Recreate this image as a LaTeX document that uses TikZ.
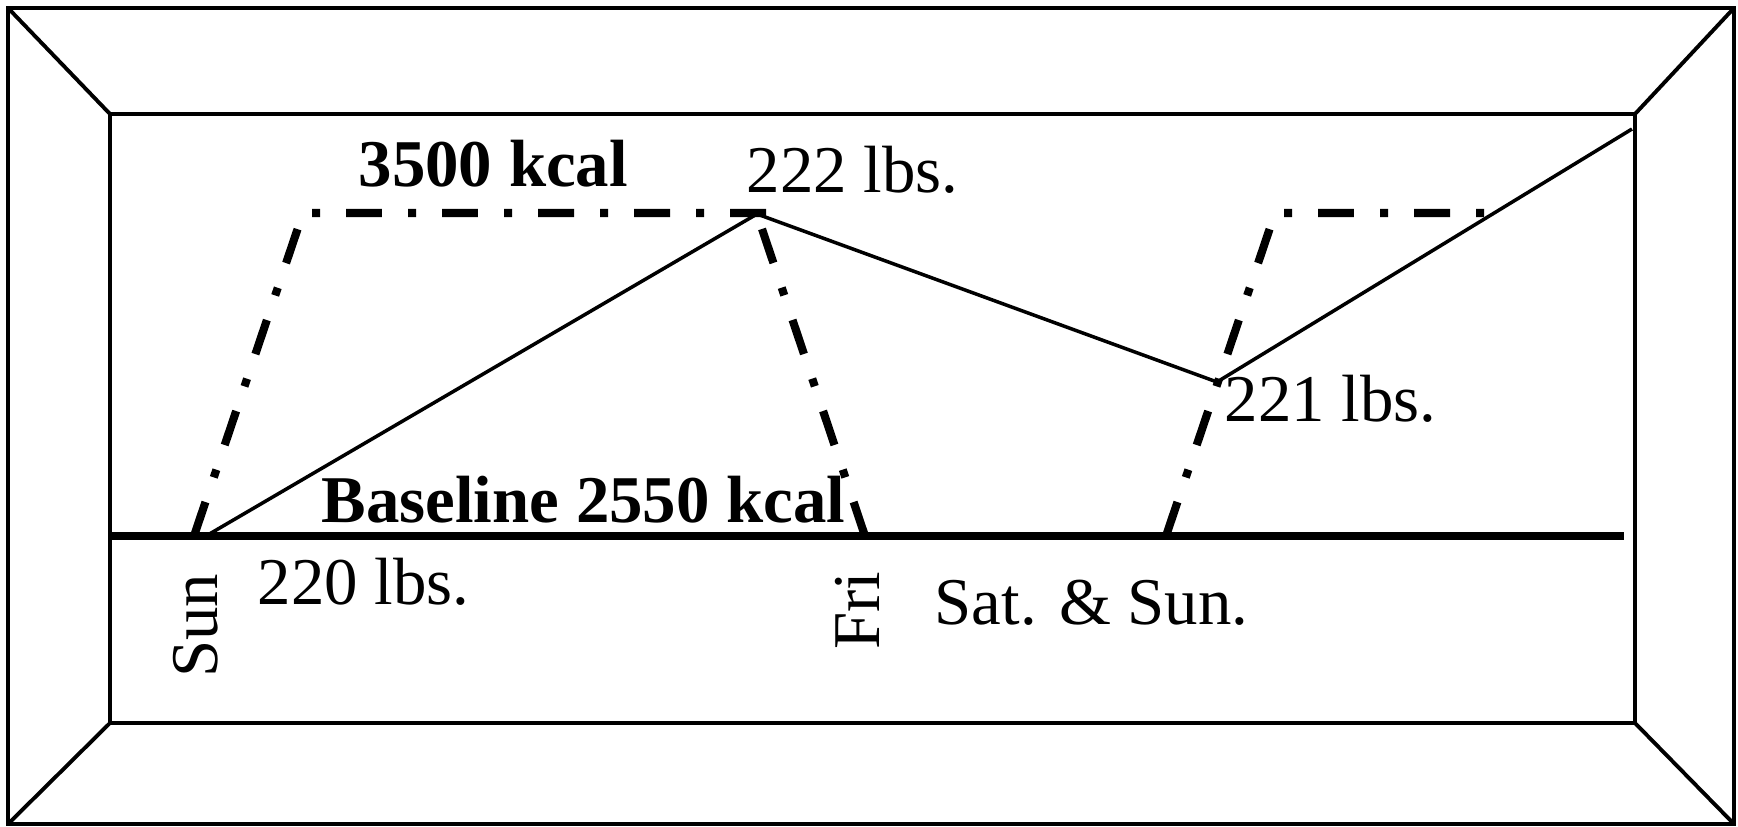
\documentclass[tikz,border=0pt]{standalone}
\usepackage{fontspec}
\setmainfont{Liberation Serif}
\usetikzlibrary{positioning}

\tikzset{
  frame/.style={line width=1.1pt},
  weight/.style={line width=1pt, line join=miter},
  kcal/.style={line width=2.3pt, dash pattern=on 10.2pt off 7.4pt on 2.3pt off 7.4pt},
  base/.style={line width=2.3pt},
  lbl/.style={inner sep=0pt, anchor=base west, font=\fontsize{19}{22}\selectfont},
  blbl/.style={lbl, font=\fontsize{19}{22}\selectfont\bfseries},
  day/.style={lbl, anchor=base east, rotate=90}
}

\begin{document}
\begin{tikzpicture}[x=0.01cm, y=-0.01cm]
\useasboundingbox (0,0) rectangle (1738,827);
% frame
\coordinate (o1) at (8,8);    \coordinate (o2) at (1734,8);
\coordinate (o3) at (1734,824); \coordinate (o4) at (8,824);
\coordinate (i1) at (110,114); \coordinate (i2) at (1635,114);
\coordinate (i3) at (1635,723); \coordinate (i4) at (110,723);
\draw[frame] (o1) -- (o2) -- (o3) -- (o4) -- cycle;
\draw[frame] (i1) -- (i2) -- (i3) -- (i4) -- cycle;
\draw[frame] (o1) -- (i1) (o2) -- (i2) (o3) -- (i3) (o4) -- (i4);
% baseline
\coordinate (b0) at (110,536);
\coordinate (b1) at (1624,536);
\draw[base] (b0) -- (b1);
% calorie intake
\coordinate (k1) at (194,536);
\coordinate (k2) at (303,213);
\coordinate (k3) at (781,213);
\coordinate (k4) at (757,214);
\coordinate (k5) at (865,536);
\coordinate (k6) at (1166,536);
\coordinate (k7) at (1275,213);
\coordinate (k8) at (1507,213);
\draw[kcal] (k1) -- (k2) -- (k3);
\draw[kcal] (k5) -- (k4);
\draw[kcal] (k6) -- (k7) -- (k8);
% weight
\coordinate (w0) at (206,536);
\coordinate (w1) at (757,214);
\coordinate (w2) at (1217,382);
\coordinate (w3) at (1632,129);
\draw[weight] (w0) -- (w1) -- (w2) -- (w3);
% labels
\node[blbl] (high) at (358,186) {3500 kcal};
\node[blbl] (low) at (321,522) {Baseline 2550 kcal};
\node[lbl] (lbs222) at (746,192) {222 lbs.};
\node[lbl] (lbs221) at (1224,421) {221 lbs.};
\node[lbl] (lbs220) at (257,604) {220 lbs.};
\node[lbl] (wkend) at (934,624) {Sat. \& Sun.};
\node[day] (sun) at (217,573) {Sun};
\node[day] (fri) at (879,571) {Fri};
\end{tikzpicture}
\end{document}
